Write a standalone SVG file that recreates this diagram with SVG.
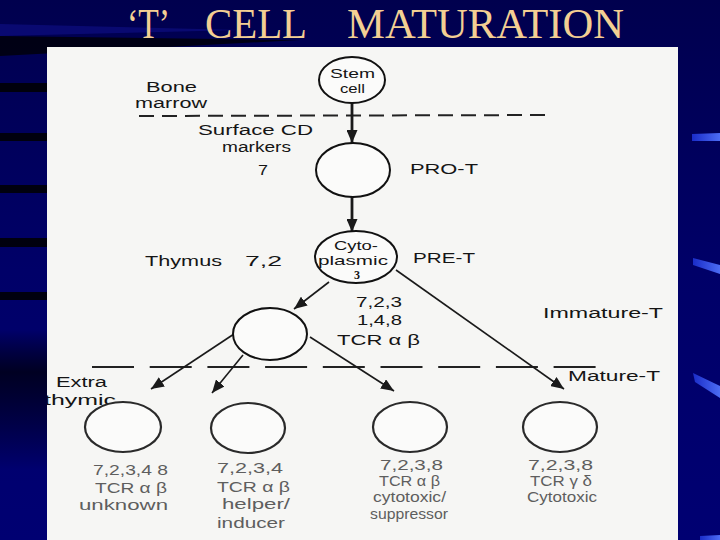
<svg xmlns="http://www.w3.org/2000/svg" width="720" height="540" viewBox="0 0 720 540">
  <defs>
    <linearGradient id="bg" x1="0" y1="0" x2="0" y2="1">
      <stop offset="0" stop-color="#00004e"/>
      <stop offset="0.5" stop-color="#000068"/>
      <stop offset="1" stop-color="#000072"/>
    </linearGradient>
    <linearGradient id="streak" x1="0" y1="0" x2="1" y2="0">
      <stop offset="0" stop-color="#1a2cc8"/>
      <stop offset="1" stop-color="#4c6cf4"/>
    </linearGradient>
    <linearGradient id="leftdark" x1="0" y1="0" x2="0" y2="1">
      <stop offset="0" stop-color="#000000" stop-opacity="0"/>
      <stop offset="0.3" stop-color="#000010" stop-opacity="0.8"/>
      <stop offset="1" stop-color="#000000" stop-opacity="0"/>
    </linearGradient>
    <clipPath id="pageclip">
      <rect x="47" y="47" width="631" height="493"/>
    </clipPath>
    <marker id="ah" markerUnits="userSpaceOnUse" markerWidth="13" markerHeight="11" refX="13" refY="5.5" orient="auto">
      <path d="M0,0 L13,5.5 L0,11 z" fill="#1a1a1a"/>
    </marker>
    <style>
      .title { font-family: "Liberation Serif", "Times New Roman", serif; font-size: 42px; fill: #f3cf93; }
      .lbl { font-family: "Liberation Sans", Arial, sans-serif; font-size: 15.5px; fill: #151515; }
      .small { font-family: "Liberation Sans", Arial, sans-serif; font-size: 13px; fill: #151515; }
      .low { font-family: "Liberation Sans", Arial, sans-serif; font-size: 14.5px; fill: #5e5e5e; }
      .cell { fill: #fbfbfa; stroke: #111; stroke-width: 2; }
      .cellb { fill: #fbfbfa; stroke: #2a2a2a; stroke-width: 2.2; }
      .thick { stroke: #1a1a1a; stroke-width: 2.8; fill: none; }
      .thin { stroke: #1a1a1a; stroke-width: 1.6; fill: none; }
      .dash { stroke: #222; stroke-width: 2; fill: none; }
      .streak { fill: url(#streak); }
    </style>
  </defs>

  <!-- slide background -->
  <rect x="0" y="0" width="720" height="540" fill="url(#bg)"/>
  <polygon points="0,36 300,40 0,56" fill="#000000" opacity="0.75"/>
  <polygon points="0,24 240,30 0,36" fill="#1a1ab0" opacity="0.35"/>
  <rect x="0" y="330" width="47" height="140" fill="url(#leftdark)"/>
  <g fill="#000000" opacity="0.85">
    <rect x="0" y="83" width="47" height="9"/>
    <rect x="0" y="133" width="47" height="8"/>
    <rect x="0" y="185" width="47" height="8"/>
    <rect x="0" y="238" width="47" height="9"/>
    <rect x="0" y="292" width="47" height="8"/>
  </g>
  <g>
    <polygon class="streak" points="692,134 720,133 720,141 692,141"/>
    <polygon class="streak" points="693,258 720,265 720,274 693,265"/>
    <polygon class="streak" points="693,373 720,386 720,398 695,382"/>
    <polygon class="streak" points="700,536 720,535 720,540 700,540"/>
  </g>

  <!-- title -->
  <text class="title" x="127" y="38" textLength="43" lengthAdjust="spacingAndGlyphs">‘T’</text>
  <text class="title" x="205" y="38" textLength="102" lengthAdjust="spacingAndGlyphs">CELL</text>
  <text class="title" x="347" y="38" textLength="277" lengthAdjust="spacingAndGlyphs">MATURATION</text>

  <!-- scanned page -->
  <rect x="47" y="47" width="631" height="493" fill="#f6f6f4"/>

  <!-- region boundaries -->
  <g id="boundaries">
    <line class="dash" x1="139" y1="116" x2="552" y2="115" stroke-dasharray="15 8"/>
    <line class="dash" x1="92" y1="367" x2="597" y2="367" stroke-dasharray="42 15.7"/>
  </g>

  <!-- side labels -->
  <g id="labels">
    <text class="lbl" x="146" y="92" textLength="51" lengthAdjust="spacingAndGlyphs">Bone</text>
    <text class="lbl" x="135" y="108" textLength="72" lengthAdjust="spacingAndGlyphs">marrow</text>
    <text class="lbl" x="198" y="135" textLength="115" lengthAdjust="spacingAndGlyphs">Surface CD</text>
    <text class="lbl" x="222" y="152" textLength="69" lengthAdjust="spacingAndGlyphs">markers</text>
    <text class="lbl" x="258" y="175" textLength="10" lengthAdjust="spacingAndGlyphs">7</text>
    <text class="lbl" x="410" y="174" textLength="68" lengthAdjust="spacingAndGlyphs">PRO-T</text>
    <text class="lbl" x="145" y="266" textLength="77" lengthAdjust="spacingAndGlyphs">Thymus</text>
    <text class="lbl" x="245" y="266" textLength="37" lengthAdjust="spacingAndGlyphs">7,2</text>
    <text class="lbl" x="413" y="263" textLength="62" lengthAdjust="spacingAndGlyphs">PRE-T</text>
    <text class="lbl" x="356" y="307" textLength="46" lengthAdjust="spacingAndGlyphs">7,2,3</text>
    <text class="lbl" x="357" y="325" textLength="45" lengthAdjust="spacingAndGlyphs">1,4,8</text>
    <text class="lbl" x="337" y="345" textLength="83" lengthAdjust="spacingAndGlyphs">TCR α β</text>
    <text class="lbl" x="543" y="318" textLength="120" lengthAdjust="spacingAndGlyphs">Immature-T</text>
    <text class="lbl" x="568" y="381" textLength="92" lengthAdjust="spacingAndGlyphs">Mature-T</text>
    <g clip-path="url(#pageclip)">
      <text class="lbl" x="56" y="387" textLength="51" lengthAdjust="spacingAndGlyphs">Extra</text>
      <text class="lbl" x="44" y="405" textLength="72" lengthAdjust="spacingAndGlyphs">thymic</text>
    </g>
  </g>

  <!-- connectors -->
  <g id="connectors">
    <line class="thick" x1="352" y1="103" x2="352" y2="143" marker-end="url(#ah)"/>
    <line class="thick" x1="352" y1="197" x2="352" y2="232" marker-end="url(#ah)"/>
    <line class="thin" x1="329" y1="282" x2="294" y2="309" marker-end="url(#ah)"/>
    <line class="thin" x1="396" y1="270" x2="564" y2="389" marker-end="url(#ah)"/>
    <line class="thin" x1="234" y1="334" x2="151" y2="389" marker-end="url(#ah)"/>
    <line class="thin" x1="243" y1="355" x2="212" y2="393" marker-end="url(#ah)"/>
    <line class="thin" x1="310" y1="337" x2="394" y2="391" marker-end="url(#ah)"/>
  </g>

  <!-- nodes -->
  <g id="stem-cell">
    <ellipse class="cell" cx="352" cy="80" rx="33" ry="23"/>
    <text class="small" x="330" y="78" textLength="45" lengthAdjust="spacingAndGlyphs">Stem</text>
    <text class="small" x="340" y="93" textLength="25" lengthAdjust="spacingAndGlyphs">cell</text>
  </g>
  <g id="pro-t">
    <ellipse class="cell" cx="353" cy="170" rx="37" ry="27"/>
  </g>
  <g id="pre-t">
    <ellipse class="cell" cx="356" cy="257" rx="41" ry="26"/>
    <text class="small" x="334" y="250" textLength="44" lengthAdjust="spacingAndGlyphs">Cyto-</text>
    <text class="small" x="318" y="265" textLength="70" lengthAdjust="spacingAndGlyphs">plasmic</text>
    <text x="357" y="279" text-anchor="middle" font-family="Liberation Serif, serif" font-size="12" font-weight="bold" fill="#151515">3</text>
  </g>
  <g id="immature-t">
    <ellipse class="cell" cx="270" cy="334" rx="37" ry="26"/>
  </g>
  <g id="extrathymic">
    <ellipse class="cellb" cx="123" cy="427" rx="38" ry="25"/>
    <text class="low" x="93" y="475" textLength="75" lengthAdjust="spacingAndGlyphs">7,2,3,4 8</text>
    <text class="low" x="95" y="493" textLength="72" lengthAdjust="spacingAndGlyphs">TCR α β</text>
    <text class="low" x="79" y="510" textLength="89" lengthAdjust="spacingAndGlyphs">unknown</text>
  </g>
  <g id="helper">
    <ellipse class="cellb" cx="248" cy="428" rx="37" ry="25"/>
    <text class="low" x="217" y="473" textLength="66" lengthAdjust="spacingAndGlyphs">7,2,3,4</text>
    <text class="low" x="217" y="492" textLength="73" lengthAdjust="spacingAndGlyphs">TCR α β</text>
    <text class="low" x="222" y="509" textLength="68" lengthAdjust="spacingAndGlyphs">helper/</text>
    <text class="low" x="217" y="528" textLength="68" lengthAdjust="spacingAndGlyphs">inducer</text>
  </g>
  <g id="cytotoxic-suppressor">
    <ellipse class="cellb" cx="410" cy="427" rx="37" ry="25"/>
    <text class="low" x="380" y="470" textLength="63" lengthAdjust="spacingAndGlyphs">7,2,3,8</text>
    <text class="low" x="379" y="486" textLength="61" lengthAdjust="spacingAndGlyphs">TCR α β</text>
    <text class="low" x="373" y="502" textLength="73" lengthAdjust="spacingAndGlyphs">cytotoxic/</text>
    <text class="low" x="370" y="519" textLength="78" lengthAdjust="spacingAndGlyphs">suppressor</text>
  </g>
  <g id="cytotoxic-gd">
    <ellipse class="cellb" cx="560" cy="427" rx="37" ry="25"/>
    <text class="low" x="528" y="470" textLength="65" lengthAdjust="spacingAndGlyphs">7,2,3,8</text>
    <text class="low" x="530" y="486" textLength="62" lengthAdjust="spacingAndGlyphs">TCR γ δ</text>
    <text class="low" x="527" y="502" textLength="70" lengthAdjust="spacingAndGlyphs">Cytotoxic</text>
  </g>
</svg>
